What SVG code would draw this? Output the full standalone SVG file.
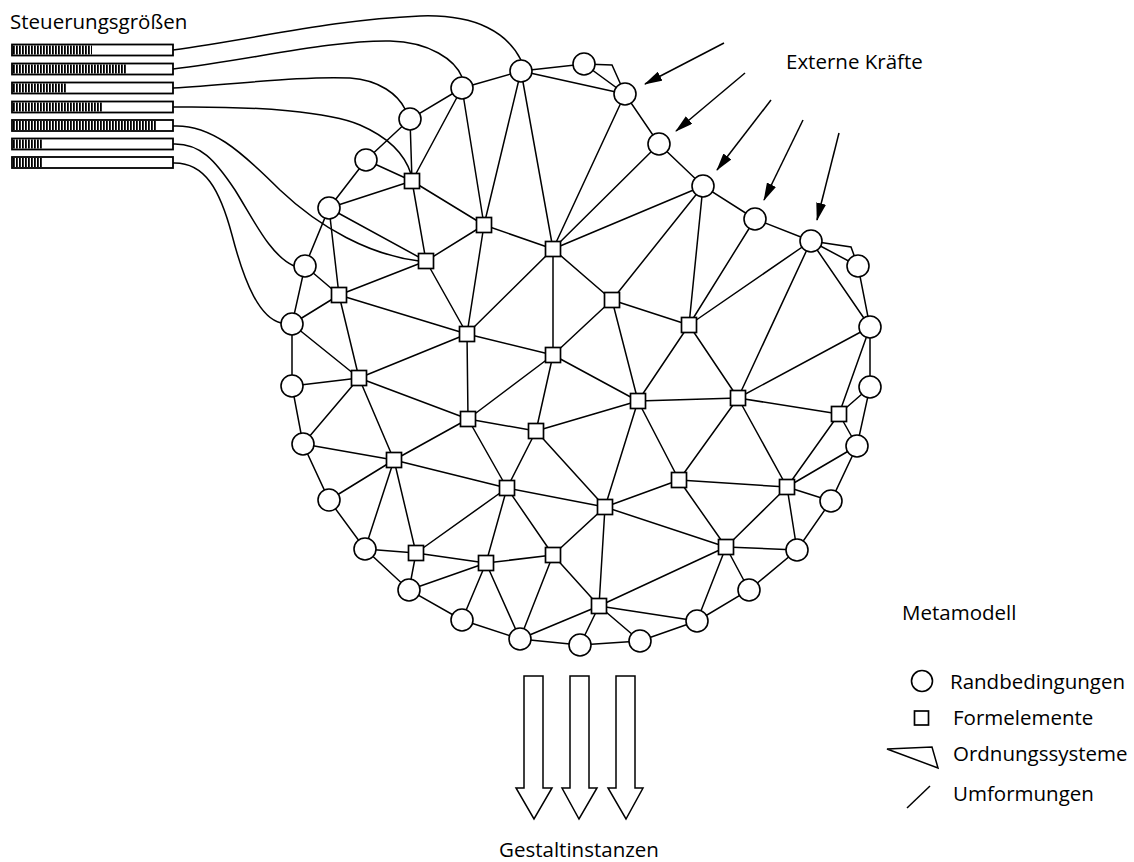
<svg xmlns="http://www.w3.org/2000/svg" width="1134" height="862" viewBox="0 0 1134 862">
  <style>
    .edge { stroke: #000; stroke-width: 1.5; fill: none; }
    .curve { stroke: #000; stroke-width: 1.5; fill: none; }
    .rb { fill: #fff; stroke: #000; stroke-width: 1.6; }
    .fe { fill: #fff; stroke: #000; stroke-width: 1.7; }
    .bar { fill: #fff; stroke: #000; stroke-width: 1.8; }
    .force { stroke: #000; stroke-width: 1.5; fill: none; marker-end: url(#ah); }
    .out { fill: #fff; stroke: #000; stroke-width: 1.5; }
    .lbl { font-family: "Open Sans", "Noto Sans", "Liberation Sans", sans-serif; font-size: 20.5px; fill: #000; }
  </style>
  <defs>
    <marker id="ah" markerUnits="userSpaceOnUse" markerWidth="18" markerHeight="10" refX="17" refY="5" orient="auto">
      <path d="M0,0 L18,5 L0,10 Z" fill="#000"/>
    </marker>
    <pattern id="hatch" patternUnits="userSpaceOnUse" x="13" y="0" width="3" height="12">
      <rect x="0" y="0" width="1.8" height="12" fill="#000"/>
    </pattern>
    <circle id="rbShape" r="11"/>
    <rect id="feShape" x="-7.5" y="-7.5" width="15" height="15"/>
  </defs>

  <rect width="1134" height="862" fill="#fff"/>

  <!-- control variables: bars with fill levels -->
  <g id="steuerung">
    <text class="lbl" x="10" y="29">Steuerungsgrößen</text>
    <g id="bar1"><rect class="bar" x="12" y="44.5" width="161" height="11"/><rect x="13" y="45.5" width="79" height="9" fill="url(#hatch)"/></g>
    <g id="bar2"><rect class="bar" x="12" y="63.5" width="161" height="11"/><rect x="13" y="64.5" width="113" height="9" fill="url(#hatch)"/></g>
    <g id="bar3"><rect class="bar" x="12" y="82.5" width="161" height="11"/><rect x="13" y="83.5" width="53" height="9" fill="url(#hatch)"/></g>
    <g id="bar4"><rect class="bar" x="12" y="101.5" width="161" height="11"/><rect x="13" y="102.5" width="90" height="9" fill="url(#hatch)"/></g>
    <g id="bar5"><rect class="bar" x="12" y="120" width="161" height="11"/><rect x="13" y="121" width="143" height="9" fill="url(#hatch)"/></g>
    <g id="bar6"><rect class="bar" x="12" y="138.5" width="161" height="11"/><rect x="13" y="139.5" width="30" height="9" fill="url(#hatch)"/></g>
    <g id="bar7"><rect class="bar" x="12" y="157" width="161" height="11"/><rect x="13" y="158" width="30" height="9" fill="url(#hatch)"/></g>
  </g>

  <g id="connectors">
    <!-- control lines into the model -->
    <path class="curve" d="M173,50 C260,38 330,20 420,16 C478,14 508,34 521,60"/>
    <path class="curve" d="M173,69 C250,60 330,40 390,41 C430,42 455,60 462,77"/>
    <path class="curve" d="M173,88 C240,84 300,76 350,78 C380,80 398,95 405,109"/>
    <path class="curve" d="M173,107 C260,106 330,112 360,125 C390,138 405,155 411,174"/>
    <path class="curve" d="M173,126 C210,124 240,150 280,190 C320,228 370,255 419,261"/>
    <path class="curve" d="M173,144 C200,143 215,160 235,190 C255,222 270,255 294,266"/>
    <path class="curve" d="M173,163 C205,162 220,190 232,235 C245,285 260,318 281,323"/>

    <!-- ordering systems -->
    <polyline class="edge" points="584,64 612,65 625,94"/>
    <polyline class="edge" points="811,241 851,247 858,266"/>

    <!-- boundary ring -->
    <polygon class="edge" points="462,88 521,71 584,64 625,94 659,144 703,186 755,219 811,241 858,266 870,327 870,387 857,446 831,501 797,550 749,590 697,621 640,641 580,645 520,639 462,620 409,590 365,549 329,500 303,444 292,386 292,324 305,266 329,208 366,160 410,119"/>

    <!-- transformations -->
    <path class="edge" d="
      M521,71 L625,94
      M811,241 L870,327
      M462,88 L412,181 M462,88 L484,225
      M521,71 L484,225 M521,71 L553,249
      M625,94 L553,249 M659,144 L553,249 M703,186 L553,249
      M703,186 L612,300 M703,186 L689,325
      M755,219 L689,325 M811,241 L689,325 M811,241 L738,398
      M870,327 L738,398 M870,327 L839,414
      M870,387 L839,414 M857,446 L839,414 M857,446 L787,487
      M831,501 L787,487 M797,550 L787,487 M797,550 L726,547
      M749,590 L726,547 M697,621 L726,547 M697,621 L599,606
      M640,641 L599,606 M580,645 L599,606 M520,639 L599,606
      M520,639 L553,555 M520,639 L486,563 M462,620 L486,563
      M409,590 L486,563 M409,590 L416,553 M365,549 L416,553
      M365,549 L394,460 M329,500 L394,460 M303,444 L394,460
      M303,444 L359,378 M292,386 L359,378 M292,324 L359,378
      M292,324 L339,295 M305,266 L339,295 M329,208 L339,295
      M329,208 L426,261 M329,208 L412,181 M366,160 L412,181 M410,119 L412,181
      M412,181 L484,225 M412,181 L426,261 M484,225 L426,261
      M484,225 L553,249 M484,225 L467,334 M553,249 L467,334
      M553,249 L612,300 M553,249 L553,355
      M426,261 L339,295 M426,261 L467,334 M339,295 L467,334 M339,295 L359,378
      M612,300 L553,355 M612,300 L689,325 M612,300 L638,401
      M689,325 L638,401 M689,325 L738,398
      M467,334 L553,355 M467,334 L359,378 M467,334 L468,419
      M553,355 L638,401 M553,355 L468,419 M553,355 L536,431
      M359,378 L468,419 M359,378 L394,460
      M638,401 L738,398 M638,401 L536,431 M638,401 L605,507 M638,401 L679,480
      M738,398 L839,414 M738,398 L679,480 M738,398 L787,487
      M839,414 L787,487
      M468,419 L536,431 M468,419 L394,460 M468,419 L507,488
      M536,431 L507,488 M536,431 L605,507
      M394,460 L507,488 M394,460 L416,553
      M679,480 L787,487 M679,480 L605,507 M679,480 L726,547
      M787,487 L726,547
      M507,488 L605,507 M507,488 L416,553 M507,488 L486,563 M507,488 L553,555
      M605,507 L726,547 M605,507 L553,555 M605,507 L599,606
      M726,547 L599,606
      M416,553 L486,563 M486,563 L553,555 M553,555 L599,606"/>

    <!-- external forces -->
    <line class="force" x1="724" y1="43" x2="645" y2="84"/>
    <line class="force" x1="745" y1="73" x2="676" y2="131"/>
    <line class="force" x1="771" y1="100" x2="717" y2="170"/>
    <line class="force" x1="803" y1="120" x2="764" y2="200"/>
    <line class="force" x1="839" y1="133" x2="817" y2="220"/>

    <!-- shape instances leaving the model -->
    <polygon class="out" points="524,676 543,676 543,788 552,788 534,819 516,788 524,788"/>
    <polygon class="out" points="570,676 589,676 589,788 597,788 579,819 562,788 570,788"/>
    <polygon class="out" points="616,676 635,676 635,788 643,788 626,819 608,788 616,788"/>
  </g>

  <!-- boundary conditions -->
  <g id="c1"><use href="#rbShape" class="rb" x="462" y="88"/></g>
  <g id="c2"><use href="#rbShape" class="rb" x="521" y="71"/></g>
  <g id="c3"><use href="#rbShape" class="rb" x="584" y="64"/></g>
  <g id="c4"><use href="#rbShape" class="rb" x="625" y="94"/></g>
  <g id="c5"><use href="#rbShape" class="rb" x="659" y="144"/></g>
  <g id="c6"><use href="#rbShape" class="rb" x="703" y="186"/></g>
  <g id="c7"><use href="#rbShape" class="rb" x="755" y="219"/></g>
  <g id="c8"><use href="#rbShape" class="rb" x="811" y="241"/></g>
  <g id="c9"><use href="#rbShape" class="rb" x="858" y="266"/></g>
  <g id="c10"><use href="#rbShape" class="rb" x="870" y="327"/></g>
  <g id="c11"><use href="#rbShape" class="rb" x="870" y="387"/></g>
  <g id="c12"><use href="#rbShape" class="rb" x="857" y="446"/></g>
  <g id="c13"><use href="#rbShape" class="rb" x="831" y="501"/></g>
  <g id="c14"><use href="#rbShape" class="rb" x="797" y="550"/></g>
  <g id="c15"><use href="#rbShape" class="rb" x="749" y="590"/></g>
  <g id="c16"><use href="#rbShape" class="rb" x="697" y="621"/></g>
  <g id="c17"><use href="#rbShape" class="rb" x="640" y="641"/></g>
  <g id="c18"><use href="#rbShape" class="rb" x="580" y="645"/></g>
  <g id="c19"><use href="#rbShape" class="rb" x="520" y="639"/></g>
  <g id="c20"><use href="#rbShape" class="rb" x="462" y="620"/></g>
  <g id="c21"><use href="#rbShape" class="rb" x="409" y="590"/></g>
  <g id="c22"><use href="#rbShape" class="rb" x="365" y="549"/></g>
  <g id="c23"><use href="#rbShape" class="rb" x="329" y="500"/></g>
  <g id="c24"><use href="#rbShape" class="rb" x="303" y="444"/></g>
  <g id="c25"><use href="#rbShape" class="rb" x="292" y="386"/></g>
  <g id="c26"><use href="#rbShape" class="rb" x="292" y="324"/></g>
  <g id="c27"><use href="#rbShape" class="rb" x="305" y="266"/></g>
  <g id="c28"><use href="#rbShape" class="rb" x="329" y="208"/></g>
  <g id="c29"><use href="#rbShape" class="rb" x="366" y="160"/></g>
  <g id="c30"><use href="#rbShape" class="rb" x="410" y="119"/></g>

  <!-- form elements -->
  <g id="s1"><use href="#feShape" class="fe" x="412" y="181"/></g>
  <g id="s2"><use href="#feShape" class="fe" x="484" y="225"/></g>
  <g id="s3"><use href="#feShape" class="fe" x="553" y="249"/></g>
  <g id="s4"><use href="#feShape" class="fe" x="426" y="261"/></g>
  <g id="s5"><use href="#feShape" class="fe" x="339" y="295"/></g>
  <g id="s6"><use href="#feShape" class="fe" x="612" y="300"/></g>
  <g id="s7"><use href="#feShape" class="fe" x="689" y="325"/></g>
  <g id="s8"><use href="#feShape" class="fe" x="467" y="334"/></g>
  <g id="s9"><use href="#feShape" class="fe" x="553" y="355"/></g>
  <g id="s10"><use href="#feShape" class="fe" x="359" y="378"/></g>
  <g id="s11"><use href="#feShape" class="fe" x="638" y="401"/></g>
  <g id="s12"><use href="#feShape" class="fe" x="738" y="398"/></g>
  <g id="s13"><use href="#feShape" class="fe" x="839" y="414"/></g>
  <g id="s14"><use href="#feShape" class="fe" x="468" y="419"/></g>
  <g id="s15"><use href="#feShape" class="fe" x="536" y="431"/></g>
  <g id="s16"><use href="#feShape" class="fe" x="394" y="460"/></g>
  <g id="s17"><use href="#feShape" class="fe" x="679" y="480"/></g>
  <g id="s18"><use href="#feShape" class="fe" x="787" y="487"/></g>
  <g id="s19"><use href="#feShape" class="fe" x="507" y="488"/></g>
  <g id="s20"><use href="#feShape" class="fe" x="605" y="507"/></g>
  <g id="s21"><use href="#feShape" class="fe" x="726" y="547"/></g>
  <g id="s22"><use href="#feShape" class="fe" x="416" y="553"/></g>
  <g id="s23"><use href="#feShape" class="fe" x="486" y="563"/></g>
  <g id="s24"><use href="#feShape" class="fe" x="553" y="555"/></g>
  <g id="s25"><use href="#feShape" class="fe" x="599" y="606"/></g>

  <!-- labels -->
  <text class="lbl" x="786" y="69">Externe Kräfte</text>
  <text class="lbl" x="579" y="857" text-anchor="middle">Gestaltinstanzen</text>

  <!-- legend -->
  <g id="legend">
    <text class="lbl" x="902" y="620">Metamodell</text>
    <circle class="rb" cx="922" cy="681" r="10.5"/>
    <text class="lbl" x="950" y="689">Randbedingungen</text>
    <rect class="fe" x="914.5" y="711" width="14" height="14"/>
    <text class="lbl" x="953" y="725">Formelemente</text>
    <polygon class="edge" points="887,749 932,747 938,768"/>
    <text class="lbl" x="953" y="761">Ordnungssysteme</text>
    <line class="edge" x1="907" y1="808" x2="930" y2="786"/>
    <text class="lbl" x="953" y="801">Umformungen</text>
  </g>
</svg>
